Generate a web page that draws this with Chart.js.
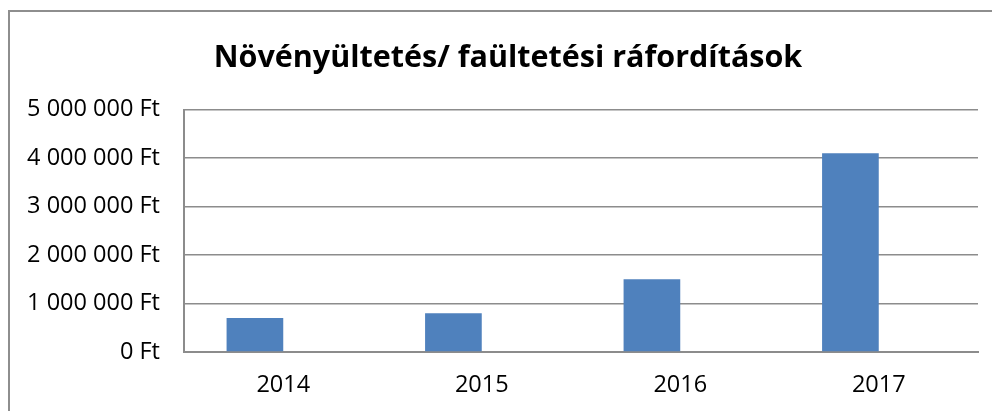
<!DOCTYPE html>
<html>
<head>
<meta charset="utf-8">
<script src="https://cdn.jsdelivr.net/npm/chart.js@4/dist/chart.umd.min.js"></script>
<style>
    html, body { margin: 0; padding: 0; background: #fff; overflow: hidden; }
    body { width: 992px; height: 411px; position: relative; }
    #frame {
        position: absolute; left: 8px; top: 10px;
        width: 998px; height: 401px;
        border-left: 2px solid #8e8e8e; border-top: 2px solid #8e8e8e;
        box-sizing: border-box;
    }
    #wrap { position: absolute; left: 0; top: 0; width: 996px; height: 399px; }
</style>
</head>
<body>
<div id="frame"><div id="wrap"><canvas id="myChart"></canvas></div></div>
<script>
const years = ['2014', '2015', '2016', '2017'];
const costs = [700000, 800000, 1500000, 4100000];
// Excel left an empty second series, so bars sit left of each label
const emptySeries = [null, null, null, null];
const yTicks = [0, 1000000, 2000000, 3000000, 4000000, 5000000];

function ft(v) {
    return v.toString().replace(/\B(?=(\d{3})+(?!\d))/g, ' ') + ' Ft';
}

const font = "'Open Sans', sans-serif";
const gridColor = '#8c8c8c';

var ctx = document.getElementById('myChart').getContext('2d');
var myChart = new Chart(ctx, {
    type: 'bar',
    data: {
        labels: years,
        datasets: [
            {
                label: 'Ráfordítás',
                data: costs,
                backgroundColor: '#4f81bd',
                borderWidth: 0,
                categoryPercentage: 0.571,
                barPercentage: 1
            },
            {
                label: '',
                data: emptySeries,
                backgroundColor: '#c0504d',
                categoryPercentage: 0.571,
                barPercentage: 1
            }
        ]
    },
    options: {
        responsive: true,
        maintainAspectRatio: false,
        animation: false,
        layout: { padding: 0 },
        plugins: {
            legend: { display: false },
            tooltip: { enabled: false },
            title: {
                display: true,
                text: 'Növényültetés/ faültetési ráfordítások',
                color: '#000',
                font: { family: font, size: 30.5, weight: 'bold' },
                padding: { top: 28, bottom: 33 }
            }
        },
        scales: {
            x: {
                grid: { display: false, drawTicks: false },
                border: { display: true, color: gridColor, width: 2 },
                ticks: { color: '#000', font: { family: font, size: 23.5 }, padding: 19 },
                afterFit: function (scale) { scale.height = 59; }
            },
            y: {
                min: 0,
                max: 5000000,
                afterBuildTicks: function (scale) {
                    scale.ticks = yTicks.map(v => ({ value: v }));
                },
                grid: { color: gridColor, lineWidth: 1.5, drawTicks: false },
                border: { display: true, color: gridColor, width: 2 },
                ticks: {
                    color: '#000',
                    font: { family: font, size: 23.5 },
                    padding: 24,
                    callback: function (v) { return ft(v); }
                },
                afterFit: function (scale) { scale.width = 174; }
            },
            // blank strip on the right, keeps the title centred on the whole frame
            gap: {
                type: 'linear',
                position: 'right',
                grid: { display: false, drawTicks: false },
                border: { display: false },
                ticks: { display: false },
                afterFit: function (scale) { scale.width = 28; }
            }
        }
    }
});
</script>
</body>
</html>
